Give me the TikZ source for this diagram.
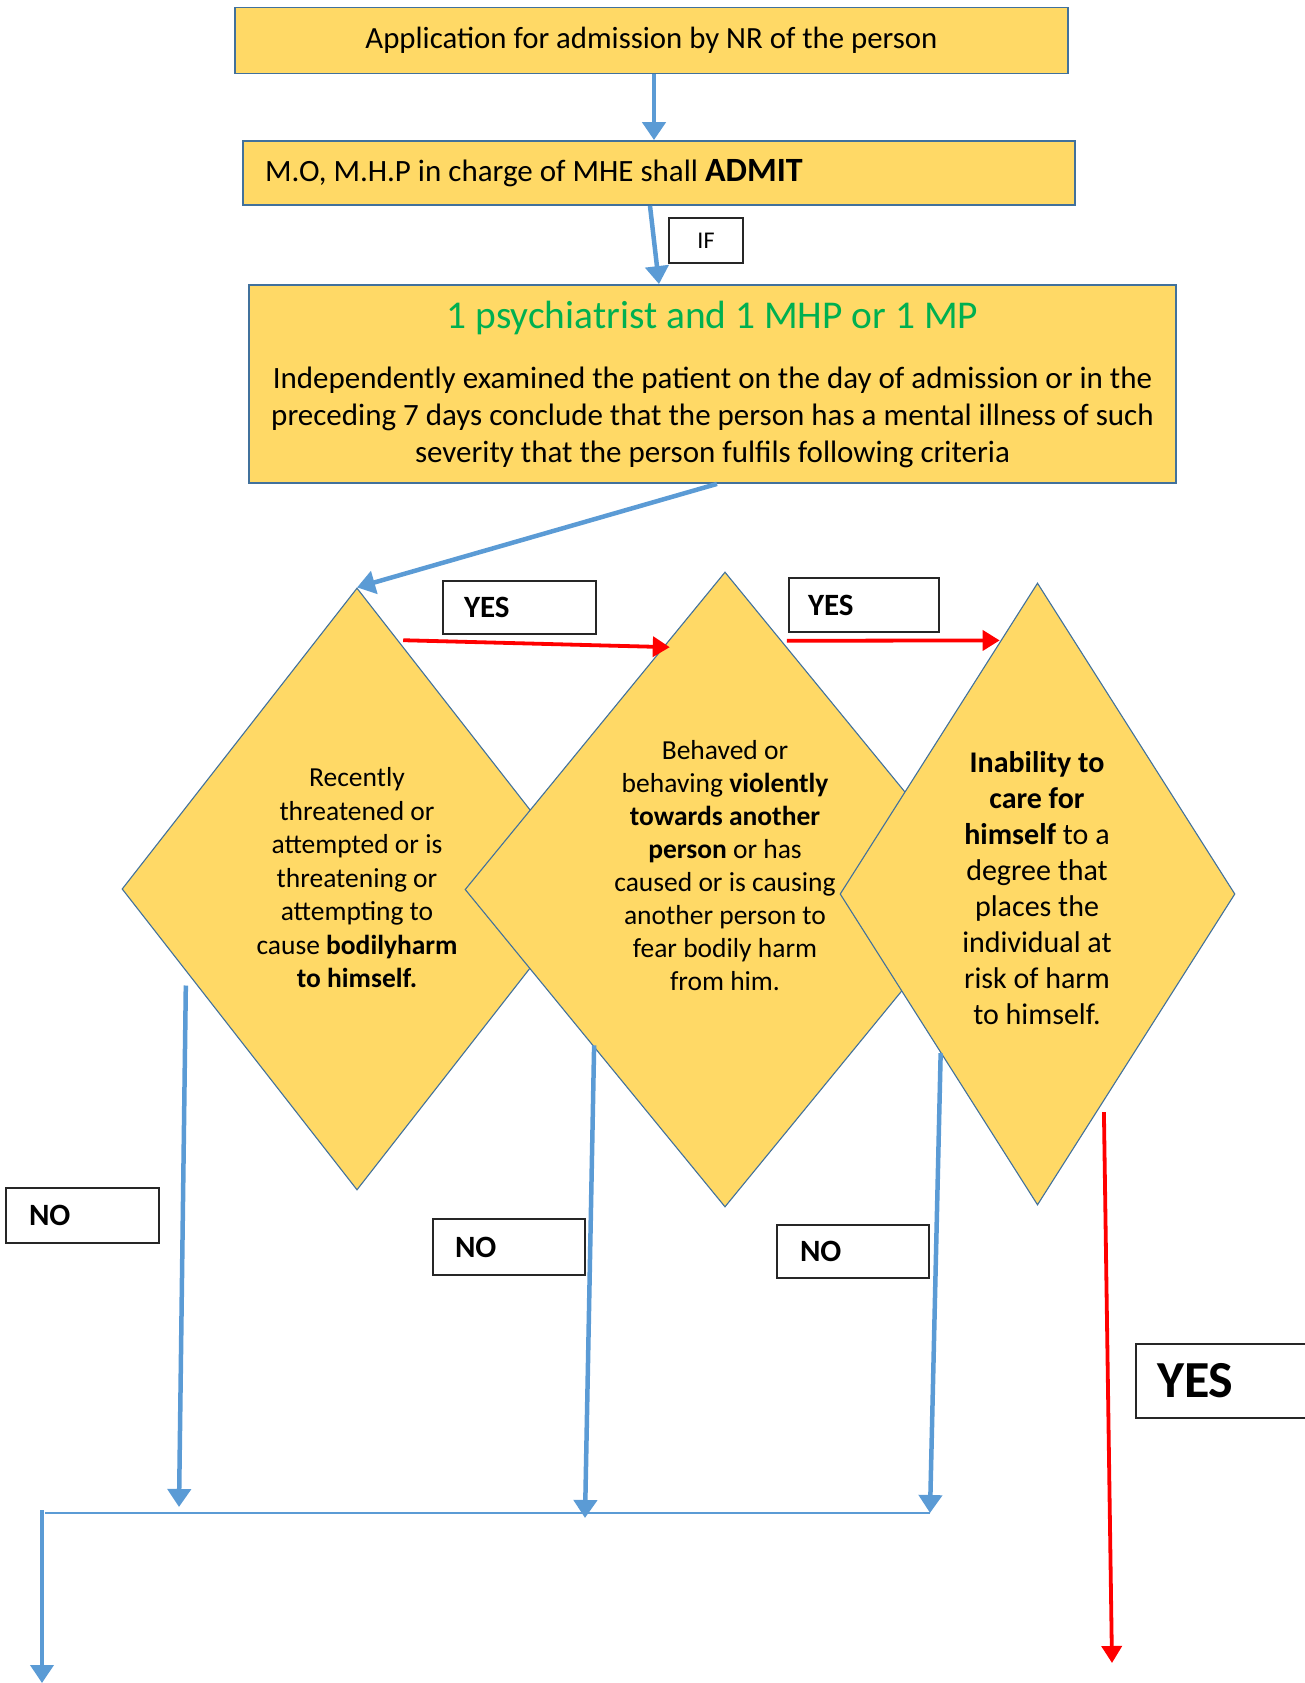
\documentclass[tikz,border=0pt]{standalone}
\usepackage{fontspec}
\setmainfont{Carlito}
\usetikzlibrary{shapes.geometric,arrows.meta,calc}
\definecolor{gold}{HTML}{FFD966}
\definecolor{edgeblue}{HTML}{41719C}
\definecolor{flowblue}{HTML}{5B9BD5}
\definecolor{okgreen}{HTML}{00B050}
\begin{document}
\begin{tikzpicture}[x=1pt,y=-1pt,
  goldbox/.style={draw=edgeblue,line width=1.8pt,fill=gold,rectangle,inner sep=0pt},
  crit/.style={draw=edgeblue,line width=1.1pt,fill=gold,diamond,inner sep=0pt},
  labbox/.style={draw=black!85,line width=1.7pt,fill=white,rectangle,inner ysep=0pt,align=left,font=\bfseries\fontsize{31}{31}\selectfont},
  blueflow/.style={draw=flowblue,line width=4.5pt,-{Triangle[width=23pt,length=18pt]}},
  redflow/.style={draw=red,line width=3.8pt,-{Triangle[width=20pt,length=17pt]}},
  crittext/.style={align=center,inner sep=0pt}
]
\useasboundingbox (0,0) rectangle (1304,1683);

% top boxes
\node[goldbox,minimum width=833pt,minimum height=66pt,font=\fontsize{30.8}{36}\selectfont] (b1) at (651.5,40.5) {Application for admission by NR of the person};
\node[goldbox,minimum width=832pt,minimum height=64pt,inner xsep=22pt,font=\fontsize{31}{36}\selectfont] (b2) at (659,173) {\makebox[788pt][l]{M.O, M.H.P in charge of MHE shall \textbf{\fontsize{34}{36}\selectfont ADMIT}}};
\node[goldbox,minimum width=927pt,minimum height=198pt] (b3) at (712.5,384) {};
\node[font=\fontsize{39.4}{44}\selectfont,text=okgreen,inner sep=0pt] (b3title) at (712.5,318) {1 psychiatrist and 1 MHP or 1 MP};
\node[align=center,inner sep=0pt,font=\fontsize{31}{37}\selectfont] (b3body) at (712.5,417) {Independently examined the patient on the day of admission or in the\\preceding 7 days conclude that the person has a mental illness of such\\severity that the person fulfils following criteria};

\node[draw=black!85,line width=1.7pt,fill=white,minimum width=74pt,minimum height=45pt,inner sep=0pt,font=\fontsize{24}{24}\selectfont] (if) at (706,240.5) {IF};

% criteria diamonds
\node[crit,minimum width=470pt,minimum height=602pt] (d1) at (357,889) {};
\node[crittext,font=\fontsize{27.5}{33.5}\selectfont] (t1) at (357,878) {Recently\\threatened or\\attempted or is\\threatening or\\attempting to\\cause \textbf{bodilyharm}\\\textbf{to himself.}};
\node[crit,minimum width=520pt,minimum height=635pt] (d2) at (725,889.5) {};
\node[crittext,font=\fontsize{27.5}{33}\selectfont] (t2) at (725,866) {Behaved or\\behaving \textbf{violently}\\\textbf{towards another}\\\textbf{person} or has\\caused or is causing\\another person to\\fear bodily harm\\from him.};
\node[crit,minimum width=395pt,minimum height=622pt] (d3) at (1037.5,894) {};
\node[crittext,font=\fontsize{30}{36}\selectfont] (t3) at (1037,888) {\textbf{Inability to}\\\textbf{care for}\\\textbf{himself} to a\\degree that\\places the\\individual at\\risk of harm\\to himself.};

% labels
\node[labbox,minimum height=53pt,text width=111pt,inner xsep=21pt] (yes1) at (519.5,607.5) {YES};
\node[labbox,minimum height=54pt,text width=112pt,inner xsep=19pt] (yes2) at (864,605) {YES};
\node[labbox,minimum height=55pt,text width=107pt,inner xsep=23pt] (no1) at (82.5,1215.5) {NO};
\node[labbox,minimum height=56pt,text width=108pt,inner xsep=22pt] (no2) at (509,1247) {NO};
\node[labbox,minimum height=53pt,text width=106pt,inner xsep=23pt] (no3) at (853,1251.5) {NO};
\node[labbox,minimum height=74pt,text width=132pt,inner xsep=21pt,font=\bfseries\fontsize{52}{52}\selectfont] (yes3) at (1223,1381) {YES};

% connectors
\draw[blueflow] ([xshift=2.5pt]b1.south) -- ([xshift=2.5pt]b1.south |- b2.north);
\draw[blueflow] ([xshift=-9pt]b2.south) -- ([xshift=-53.5pt]b3.north);
\draw[blueflow] ([xshift=4.5pt]b3.south) -- (d1.north);

\draw[redflow] ($(d1.north)!0.175!(d1.east)+(5,0)$) -- ($(d2.north)!0.235!(d2.west)+(6,1)$);
\draw[redflow] ($(d2.north)!0.218!(d2.east)+(5,0)$) -- ($(d3.north)!0.186!(d3.west)+(-1,0)$);

\coordinate (busL) at (45,1513);
\coordinate (busR) at (930,1513);
\coordinate (outL) at (42,1683);
\coordinate (yesend) at (1112,1663);

\draw[blueflow] ($(d1.west)!0.32!(d1.south)+(-11,0)$) -- (179,1507);
\draw[blueflow] ($(d2.west)!0.49!(d2.south)+(2,0)$) -- (585,1518);
\draw[blueflow] ($(d3.west)!0.511!(d3.south)$) -- (busR);
\draw[flowblue,line width=2.2pt] (busL) -- (busR);
\draw[blueflow,line width=3.8pt] ([yshift=3pt]busL -| outL) -- (outL);
\draw[redflow] ($(d3.south)!0.30!(d3.east)+(7,0)$) -- (yesend);
\end{tikzpicture}
\end{document}
